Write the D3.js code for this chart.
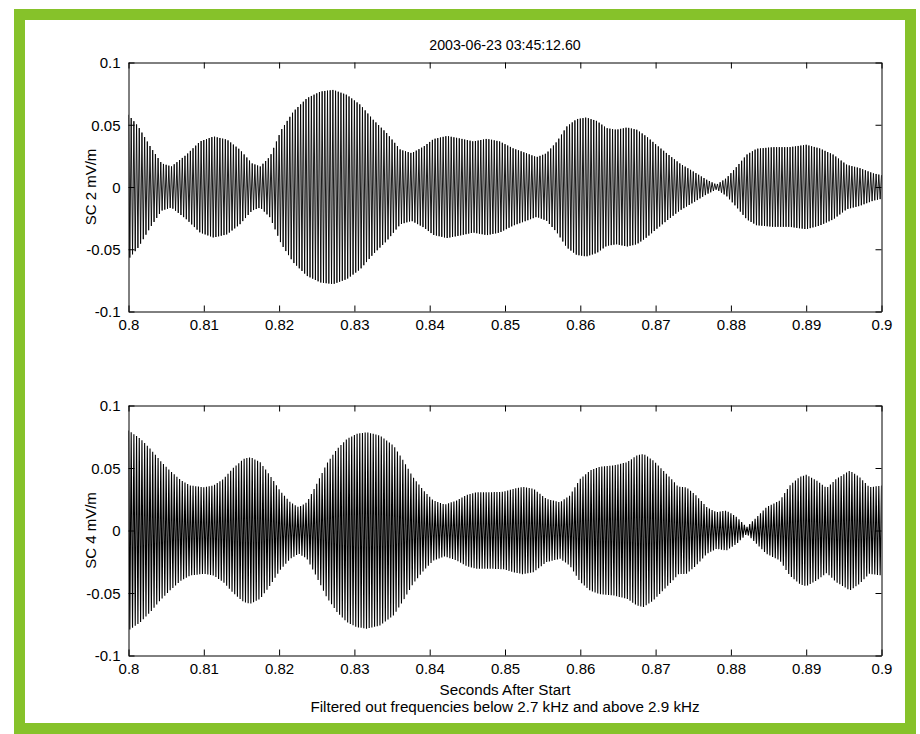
<!DOCTYPE html>
<html>
<head>
<meta charset="utf-8">
<script src="https://cdn.jsdelivr.net/npm/d3@7/dist/d3.min.js"></script>
<style>
  html, body { margin: 0; padding: 0; background: #fff; }
  svg { display: block; }
  text { font-family: "Liberation Sans", Arial, Helvetica, sans-serif; fill: #000; }
</style>
</head>
<body>
<svg id="chart" width="920" height="734"></svg>
<script>
// ---------- data ----------
const title = "2003-06-23 03:45:12.60";
const xLabel = "Seconds After Start";
const noteLabel = "Filtered out frequencies below 2.7 kHz and above 2.9 kHz";
const panelLabels = ["SC 2 mV/m", "SC 4 mV/m"];
const carrierHz = 2800; // centre of the 2.7–2.9 kHz pass band

const xTicks = [0.8, 0.81, 0.82, 0.83, 0.84, 0.85, 0.86, 0.87, 0.88, 0.89, 0.9];
const xTickLabels = ["0.8", "0.81", "0.82", "0.83", "0.84", "0.85", "0.86", "0.87", "0.88", "0.89", "0.9"];
const yTicks = [-0.1, -0.05, 0, 0.05, 0.1];
const yTickLabels = ["-0.1", "-0.05", "0", "0.05", "0.1"];

// SC 2: envelope (amplitude, mV/m) at times (s)
const sc2Times = [0.800, 0.8013, 0.8029, 0.8044, 0.8057, 0.8077, 0.8095, 0.8113, 0.8131, 0.8148,
  0.8164, 0.8175, 0.8188, 0.8203, 0.8219, 0.8237, 0.8255, 0.8272, 0.829, 0.8308,
  0.8325, 0.8343, 0.8361, 0.8376, 0.8392, 0.8405, 0.8423, 0.844, 0.8458, 0.8476,
  0.8493, 0.8511, 0.8529, 0.8542, 0.8555, 0.8569, 0.8582, 0.8595, 0.8608, 0.8622,
  0.8635, 0.8648, 0.8662, 0.8675, 0.8688, 0.8701, 0.8715, 0.8732, 0.875, 0.8768,
  0.8781, 0.8794, 0.8808, 0.8821, 0.8834, 0.8856, 0.8878, 0.89, 0.8918, 0.8936,
  0.8954, 0.8971, 0.8989, 0.9];
const sc2Envelope = [0.058, 0.0486, 0.0325, 0.019, 0.0165, 0.026, 0.0366, 0.0406, 0.038, 0.030,
  0.019, 0.0165, 0.0245, 0.046, 0.0607, 0.0714, 0.0767, 0.078, 0.074, 0.066,
  0.054, 0.0433, 0.030, 0.0272, 0.0325, 0.0385, 0.041, 0.039, 0.0366, 0.0387,
  0.0366, 0.031, 0.027, 0.024, 0.027, 0.0366, 0.0486, 0.0545, 0.0558, 0.053,
  0.0473, 0.046, 0.0478, 0.046, 0.0406, 0.0339, 0.027, 0.019, 0.0125, 0.0058,
  0.002, 0.0071, 0.0165, 0.026, 0.0307, 0.032, 0.032, 0.0339, 0.031, 0.026,
  0.0178, 0.0152, 0.011, 0.0095];

// SC 4: envelope (amplitude, mV/m) at times (s)
const sc4Times = [0.800, 0.8016, 0.8029, 0.8042, 0.8055, 0.8069, 0.8082, 0.8100, 0.8113, 0.8126,
  0.8139, 0.8153, 0.8162, 0.8175, 0.8188, 0.8201, 0.8215, 0.8226, 0.8237, 0.8250,
  0.8263, 0.8277, 0.8290, 0.8303, 0.8316, 0.8334, 0.8352, 0.8365, 0.8378, 0.8392,
  0.8405, 0.8420, 0.8436, 0.8449, 0.8462, 0.8480, 0.8498, 0.8511, 0.8524, 0.8538,
  0.8555, 0.8573, 0.8586, 0.8600, 0.8613, 0.8626, 0.8644, 0.8662, 0.8675, 0.8684,
  0.8697, 0.8710, 0.8723, 0.8730, 0.8741, 0.8754, 0.8768, 0.8781, 0.8794, 0.8808,
  0.8821, 0.8834, 0.8847, 0.8865, 0.8878, 0.8892, 0.8900, 0.8914, 0.8927, 0.8940,
  0.8958, 0.8971, 0.8984, 0.9000];
const sc4Envelope = [0.080, 0.0733, 0.0653, 0.056, 0.048, 0.0405, 0.036, 0.0346, 0.036, 0.0413,
  0.050, 0.0573, 0.0586, 0.0546, 0.044, 0.032, 0.0226, 0.0186, 0.0226, 0.0373,
  0.0533, 0.0653, 0.0733, 0.0773, 0.0786, 0.076, 0.068, 0.056, 0.0426, 0.032,
  0.024, 0.0208, 0.024, 0.0285, 0.0306, 0.0306, 0.031, 0.0333, 0.035, 0.0333,
  0.0253, 0.0226, 0.028, 0.0413, 0.048, 0.051, 0.052, 0.0546, 0.060, 0.0613,
  0.056, 0.048, 0.040, 0.035, 0.0346, 0.028, 0.0186, 0.0146, 0.016, 0.0106,
  0.0027, 0.0106, 0.0186, 0.024, 0.036, 0.0431, 0.0445, 0.040, 0.034, 0.0413,
  0.048, 0.0426, 0.0346, 0.036];

// ---------- layout ----------
const svg = d3.select("#chart");
const plotLeft = 128.5, plotRight = 881.5;
const panels = [
  { top: 62.5, bottom: 311.5, times: sc2Times, env: sc2Envelope, label: panelLabels[0] },
  { top: 405.5, bottom: 655.5, times: sc4Times, env: sc4Envelope, label: panelLabels[1] }
];

// green frame
svg.append("rect")
  .attr("x", 19.5).attr("y", 14.5).attr("width", 891).attr("height", 714)
  .attr("fill", "none").attr("stroke", "#86c22a").attr("stroke-width", 11);

svg.append("text")
  .attr("x", (plotLeft + plotRight) / 2).attr("y", 50)
  .attr("text-anchor", "middle").attr("font-size", 14.2)
  .text(title);

panels.forEach((p, i) => {
  const x = d3.scaleLinear().domain([0.8, 0.9]).range([plotLeft, plotRight]);
  const y = d3.scaleLinear().domain([-0.1, 0.1]).range([p.bottom, p.top]);
  const envAt = d3.scaleLinear().domain(p.times).range(p.env).clamp(true);

  const g = svg.append("g");
  const clipId = "clip" + i;
  svg.append("defs").append("clipPath").attr("id", clipId)
    .append("rect").attr("x", plotLeft).attr("y", p.top)
    .attr("width", plotRight - plotLeft).attr("height", p.bottom - p.top);

  // waveform: alternating half-cycle extremes following the envelope
  const half = 1 / (2 * carrierHz);
  const pts = [];
  for (let k = 0; ; k++) {
    const t = 0.8 + k * half;
    if (t > 0.9 + half) break;
    pts.push([t, (k % 2 === 0 ? 1 : -1) * envAt(t)]);
  }
  const line = d3.line().x(d => x(d[0])).y(d => y(d[1]));
  g.append("path").datum(pts)
    .attr("clip-path", `url(#${clipId})`)
    .attr("d", line)
    .attr("fill", "none").attr("stroke", "#000").attr("stroke-width", i === 0 ? 0.9 : 1.1);

  // axes with inward ticks on all four sides
  const tickLen = 6;
  const axB = d3.axisBottom(x).tickValues(xTicks).tickFormat((d, j) => xTickLabels[j]).tickSizeInner(-tickLen).tickSizeOuter(0).tickPadding(tickLen + 2);
  const axT = d3.axisTop(x).tickValues(xTicks).tickFormat("").tickSizeInner(-tickLen).tickSizeOuter(0);
  const axL = d3.axisLeft(y).tickValues(yTicks).tickFormat((d, j) => yTickLabels[j]).tickSizeInner(-tickLen).tickSizeOuter(0).tickPadding(tickLen + 2);
  const axR = d3.axisRight(y).tickValues(yTicks).tickFormat("").tickSizeInner(-tickLen).tickSizeOuter(0);

  const gb = svg.append("g").attr("transform", `translate(0,${p.bottom})`).call(axB);
  const gt = svg.append("g").attr("transform", `translate(0,${p.top})`).call(axT);
  const gl = svg.append("g").attr("transform", `translate(${plotLeft},0)`).call(axL);
  const gr = svg.append("g").attr("transform", `translate(${plotRight},0)`).call(axR);
  [gb, gt, gl, gr].forEach(a => {
    a.selectAll(".domain").attr("stroke", "#000").attr("stroke-width", 1);
    a.selectAll(".tick line").attr("stroke", "#000").attr("stroke-width", 1);
    a.selectAll("text").attr("font-size", 15).attr("font-family", "Liberation Sans, Arial, sans-serif").attr("fill", "#000");
  });
  gb.selectAll("text").attr("dy", "0.71em");
  gl.selectAll("text").attr("dy", "0.36em");

  svg.append("text")
    .attr("transform", `translate(${plotLeft - 33},${(p.top + p.bottom) / 2}) rotate(-90)`)
    .attr("text-anchor", "middle").attr("font-size", 15)
    .text(p.label);
});

svg.append("text").attr("x", (plotLeft + plotRight) / 2).attr("y", 695)
  .attr("text-anchor", "middle").attr("font-size", 15.2).text(xLabel);
svg.append("text").attr("x", (plotLeft + plotRight) / 2).attr("y", 712)
  .attr("text-anchor", "middle").attr("font-size", 15.2).text(noteLabel);
</script>
</body>
</html>
